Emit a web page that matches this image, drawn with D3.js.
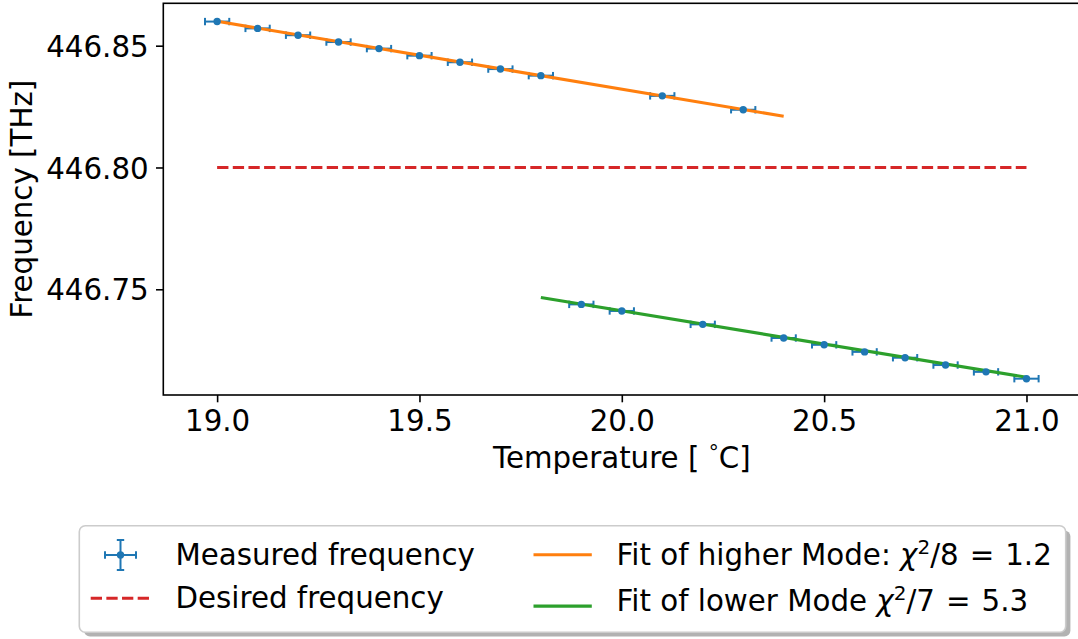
<!DOCTYPE html>
<html><head><meta charset="utf-8">
<script src="https://cdn.jsdelivr.net/npm/d3@7/dist/d3.min.js"></script>
<style>
html,body{margin:0;padding:0;background:#fff;}
svg text{font-family:"DejaVu Sans",sans-serif;white-space:pre;}
</style></head>
<body><svg id="c" width="1078" height="639"></svg>
<script>
// ---- data ----
const highT = [19.0, 19.1, 19.2, 19.3, 19.4, 19.5, 19.6, 19.7, 19.8, 20.1, 20.3];
const highF = [446.8599, 446.8571, 446.8543, 446.8515, 446.8488, 446.8459, 446.8432, 446.8404, 446.8377, 446.8294, 446.8237];
const lowT = [19.9, 20.0, 20.2, 20.4, 20.5, 20.6, 20.7, 20.8, 20.9, 21.0];
const lowF = [446.7438, 446.7411, 446.7356, 446.7300, 446.7272, 446.7243, 446.7219, 446.7189, 446.7161, 446.7133];
const tErr = 0.03;
const fitHighT = [19.0, 20.4];
const fitHighF = [446.8600, 446.8210];
const fitLowT = [19.8, 21.0];
const fitLowF = [446.7466, 446.7139];
const desiredT = [19.0, 21.0];
const desiredF = [446.80, 446.80];
const xTicks = [19.0, 19.5, 20.0, 20.5, 21.0];
const yTicks = [446.75, 446.80, 446.85];
const xLabelMain = "Temperature [ ";
const xLabelTail = "C]";
const yLabel = "Frequency [THz]";
const legendItems = ["Measured frequency", "Desired frequency", "Fit of higher Mode: ", "Fit of lower Mode "];

// ---- layout ----
const C = {blue:"#1f77b4", orange:"#ff7f0e", green:"#2ca02c", red:"#d62728"};
const FS = 29.3;
const L = 163.3, R = 1080.3, T = 3.3, B = 395;
const svg = d3.select("#c");
const x = d3.scaleLinear().domain([18.867, 21.133]).range([L, R]);
const y = d3.scaleLinear().domain([446.7066, 446.8674]).range([B, T]);

// axes
const gx = svg.append("g").attr("transform", `translate(0,${B})`)
  .call(d3.axisBottom(x).tickValues(xTicks).tickFormat(d3.format(".1f")).tickSize(7.3).tickSizeOuter(0).tickPadding(7.3));
const gy = svg.append("g").attr("transform", `translate(${L},0)`)
  .call(d3.axisLeft(y).tickValues(yTicks).tickFormat(d3.format(".2f")).tickSize(7.3).tickSizeOuter(0).tickPadding(7.3));
[gx, gy].forEach(g => {
  g.select(".domain").remove();
  g.selectAll(".tick line").attr("stroke", "#000").attr("stroke-width", 1.6);
  g.selectAll(".tick text").attr("font-size", FS).attr("fill", "#000").style("font-family", "DejaVu Sans");
});
gx.selectAll(".tick text").attr("y", 0).attr("dy", 0).attr("transform", "translate(0,35.9)");
gy.selectAll(".tick text").attr("dy", "0.36em");

svg.append("rect").attr("x", L).attr("y", T).attr("width", R - L).attr("height", B - T)
  .attr("fill", "none").attr("stroke", "#000").attr("stroke-width", 1.6);

const xl = svg.append("text").attr("x", (L + R) / 2).attr("y", 468).attr("text-anchor", "middle").attr("font-size", FS);
xl.append("tspan").text(xLabelMain);
xl.append("tspan").attr("font-size", 20).attr("dy", -9).text("°");
xl.append("tspan").attr("dy", 9).text(xLabelTail);
svg.append("text").attr("transform", `translate(32,${(T + B) / 2}) rotate(-90)`).attr("text-anchor", "middle")
  .attr("font-size", FS).text(yLabel);

// data
const pts = highT.map((t, i) => ({t, f: highF[i]})).concat(lowT.map((t, i) => ({t, f: lowF[i]})));
const eb = svg.append("g").attr("stroke", C.blue).attr("stroke-width", 2);
pts.forEach(p => {
  const cy = y(p.f);
  eb.append("line").attr("x1", x(p.t - tErr)).attr("x2", x(p.t + tErr)).attr("y1", cy).attr("y2", cy);
  [p.t - tErr, p.t + tErr].forEach(tt => eb.append("line").attr("x1", x(tt)).attr("x2", x(tt)).attr("y1", cy - 3.7).attr("y2", cy + 3.7));
});
const line = d3.line().x(d => x(d[0])).y(d => y(d[1]));
svg.append("path").attr("d", line(fitHighT.map((t, i) => [t, fitHighF[i]]))).attr("stroke", C.orange).attr("stroke-width", 3.1).attr("fill", "none");
svg.append("path").attr("d", line(fitLowT.map((t, i) => [t, fitLowF[i]]))).attr("stroke", C.green).attr("stroke-width", 3.1).attr("fill", "none");
svg.append("path").attr("d", line(desiredT.map((t, i) => [t, desiredF[i]]))).attr("stroke", C.red).attr("stroke-width", 3.1)
  .attr("stroke-dasharray", "11.3,4.36").attr("fill", "none");
svg.append("g").selectAll("circle").data(pts).join("circle")
  .attr("cx", d => x(d.t)).attr("cy", d => y(d.f)).attr("r", 3.7).attr("fill", C.blue);

// legend
const lg = svg.append("g");
lg.append("rect").attr("x", 84).attr("y", 530.5).attr("width", 986.4).attr("height", 106).attr("rx", 6)
  .attr("fill", "#7f7f7f").attr("opacity", 0.6);
lg.append("rect").attr("x", 79.3).attr("y", 525.7).attr("width", 986.4).attr("height", 106.5).attr("rx", 6)
  .attr("fill", "#fff").attr("stroke", "#cccccc").attr("stroke-width", 1.6);
// errorbar handle
const hx = 120.5, hy = 555;
const lh = lg.append("g").attr("stroke", C.blue).attr("stroke-width", 2);
lh.append("line").attr("x1", hx - 15.5).attr("x2", hx + 15.5).attr("y1", hy).attr("y2", hy);
lh.append("line").attr("x1", hx).attr("x2", hx).attr("y1", hy - 15).attr("y2", hy + 15);
[-15.5, 15.5].forEach(d => lh.append("line").attr("x1", hx + d).attr("x2", hx + d).attr("y1", hy - 3.7).attr("y2", hy + 3.7));
[-15, 15].forEach(d => lh.append("line").attr("x1", hx - 3.7).attr("x2", hx + 3.7).attr("y1", hy + d).attr("y2", hy + d));
lg.append("circle").attr("cx", hx).attr("cy", hy).attr("r", 3.7).attr("fill", C.blue);
lg.append("line").attr("x1", 90.7).attr("x2", 149).attr("y1", 598.3).attr("y2", 598.3)
  .attr("stroke", C.red).attr("stroke-width", 3.1).attr("stroke-dasharray", "11.3,4.36");
lg.append("line").attr("x1", 533.5).attr("x2", 591.8).attr("y1", 554.8).attr("y2", 554.8).attr("stroke", C.orange).attr("stroke-width", 3.1);
lg.append("line").attr("x1", 533.5).attr("x2", 591.8).attr("y1", 606.1).attr("y2", 606.1).attr("stroke", C.green).attr("stroke-width", 3.1);
lg.append("text").attr("x", 175.5).attr("y", 565).attr("font-size", FS).text(legendItems[0]);
lg.append("text").attr("x", 175.5).attr("y", 608.3).attr("font-size", FS).text(legendItems[1]);
function mathLabel(yb, prefix, dof, val) {
  const t = lg.append("text").attr("x", 616.6).attr("y", yb).attr("font-size", FS);
  t.append("tspan").text(prefix);
  t.append("tspan").attr("font-style", "italic").text("χ");
  t.append("tspan").attr("font-size", 20).attr("dy", -11).text("2");
  t.append("tspan").attr("dy", 11).text("/" + dof);
  t.append("tspan").attr("dx", 11).text("=");
  t.append("tspan").attr("dx", 11).text(val);
}
mathLabel(565, legendItems[2], 8, "1.2");
mathLabel(610.7, legendItems[3], 7, "5.3");
</script></body></html>
